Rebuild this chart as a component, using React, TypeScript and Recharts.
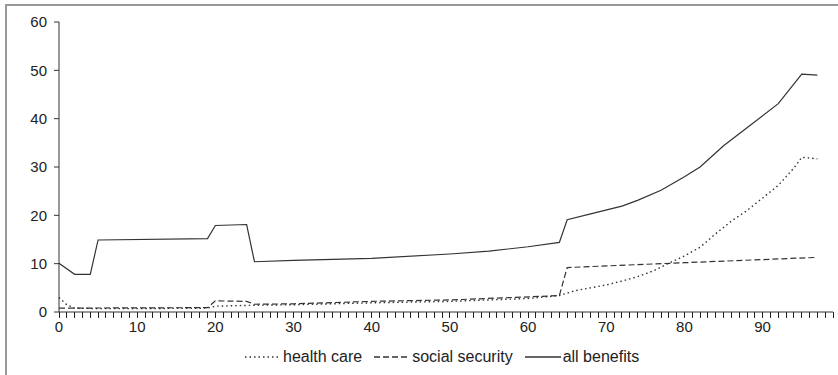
import React from 'react';
import { LineChart, Line, XAxis, YAxis } from 'recharts';

// ---- data ----
const healthAges = [0, 1, 2, 5, 10, 19, 20, 25, 30, 40, 50, 60, 64, 66, 68, 70, 72, 74, 76, 78, 80, 82, 84, 86, 88, 90, 92, 94, 95, 97];
const healthValues = [3.0, 1.5, 0.8, 0.7, 0.7, 0.8, 1.2, 1.4, 1.5, 1.9, 2.2, 2.8, 3.4, 4.4, 5.0, 5.6, 6.4, 7.3, 8.5, 10.1, 11.6, 13.4, 16.2, 18.8, 21.0, 23.6, 26.2, 29.8, 32.0, 31.7];

const socialAges = [0, 19, 20, 24, 25, 30, 40, 50, 58, 64, 65, 80, 97];
const socialValues = [0.8, 0.9, 2.3, 2.2, 1.6, 1.7, 2.2, 2.5, 3.0, 3.4, 9.2, 10.2, 11.3];

const allAges = [0, 2, 4, 5, 19, 20, 24, 25, 30, 40, 50, 55, 60, 64, 65, 68, 72, 74, 77, 80, 82, 85, 88, 92, 95, 97];
const allValues = [10.1, 7.8, 7.8, 14.9, 15.2, 17.9, 18.1, 10.4, 10.7, 11.1, 12.0, 12.6, 13.5, 14.4, 19.1, 20.3, 21.9, 23.1, 25.2, 28.0, 30.0, 34.4, 38.1, 43.1, 49.2, 49.0];

const xLabelTicks = [0, 10, 20, 30, 40, 50, 60, 70, 80, 90];
const yTicks = [0, 10, 20, 30, 40, 50, 60];
const seriesNames = ['health care', 'social security', 'all benefits'];

const xMinorTicks = Array.from({ length: 100 }, (_, i) => i);

const toData = (ages: number[], vals: number[]) => ages.map((a, i) => ({ age: a, v: vals[i] }));
const healthData = toData(healthAges, healthValues);
const socialData = toData(socialAges, socialValues);
const allData = toData(allAges, allValues);

const FONT = '"Liberation Sans", Arial, Helvetica, sans-serif';
const LINE_COLOR = '#333';

const dashes = ['1.5 3', '6 3', undefined];

const TICK_SIZE = 5;
const TICK_MARGIN = 3;

function XTick(props: any) {
  const { x, y, payload } = props;
  const v = payload.value;
  const show = xLabelTicks.includes(v);
  const axisY = y - TICK_SIZE - TICK_MARGIN;
  return (
    <g>
      <line x1={x} y1={axisY} x2={x} y2={axisY + TICK_SIZE + 1} stroke="#222" strokeWidth={1} shapeRendering="crispEdges" />
      {show && (
        <text x={x} y={y + 1} dy="0.71em" textAnchor="middle" fill="#222" fontSize={15} fontFamily={FONT}>
          {v}
        </text>
      )}
    </g>
  );
}

function LegendItem({ name, dash }: { name: string; dash?: string }) {
  return (
    <div style={{ display: 'flex', alignItems: 'center', marginRight: 12 }}>
      <svg width={36} height={10} style={{ marginRight: 2 }}>
        <line x1={0} y1={5} x2={36} y2={5} stroke={LINE_COLOR} strokeWidth={1.3} strokeDasharray={dash} />
      </svg>
      <span>{name}</span>
    </div>
  );
}

export default function App() {
  return (
    <div style={{ position: 'fixed', left: 0, top: 0, width: 838, height: 375, background: '#fff', fontFamily: FONT }}>
      <div style={{ position: 'absolute', left: 5, top: 4, width: 833, height: 371, borderTop: '2px solid #999', borderLeft: '2px solid #999', boxSizing: 'border-box' }} />
      <LineChart width={838} height={375} margin={{ top: 22, right: 5, bottom: 33, left: 0 }}>
        <XAxis
          dataKey="age"
          type="number"
          domain={[0, 99]}
          ticks={xMinorTicks}
          interval={0}
          allowDuplicatedCategory={false}
          tickLine={false}
          tickSize={TICK_SIZE}
          tickMargin={TICK_MARGIN}
          height={30}
          stroke={LINE_COLOR}
          tick={<XTick />}
        />
        <YAxis
          type="number"
          domain={[0, 60]}
          ticks={yTicks}
          interval={0}
          width={59}
          tickSize={5}
          tickMargin={7}
          stroke={LINE_COLOR}
          tick={{ fill: '#222', fontSize: 15, fontFamily: FONT }}
        />
        <Line data={healthData} dataKey="v" name={seriesNames[0]} stroke={LINE_COLOR} strokeWidth={1.4} strokeDasharray={dashes[0]} dot={false} isAnimationActive={false} type="linear" />
        <Line data={socialData} dataKey="v" name={seriesNames[1]} stroke={LINE_COLOR} strokeWidth={1.2} strokeDasharray={dashes[1]} dot={false} isAnimationActive={false} type="linear" />
        <Line data={allData} dataKey="v" name={seriesNames[2]} stroke={LINE_COLOR} strokeWidth={1.2} dot={false} isAnimationActive={false} type="linear" />
      </LineChart>
      <div style={{ position: 'absolute', left: 245, top: 347, display: 'flex', alignItems: 'center', fontSize: 16, color: '#222', lineHeight: '20px' }}>
        {seriesNames.map((n, i) => (
          <LegendItem key={n} name={n} dash={dashes[i]} />
        ))}
      </div>
    </div>
  );
}
